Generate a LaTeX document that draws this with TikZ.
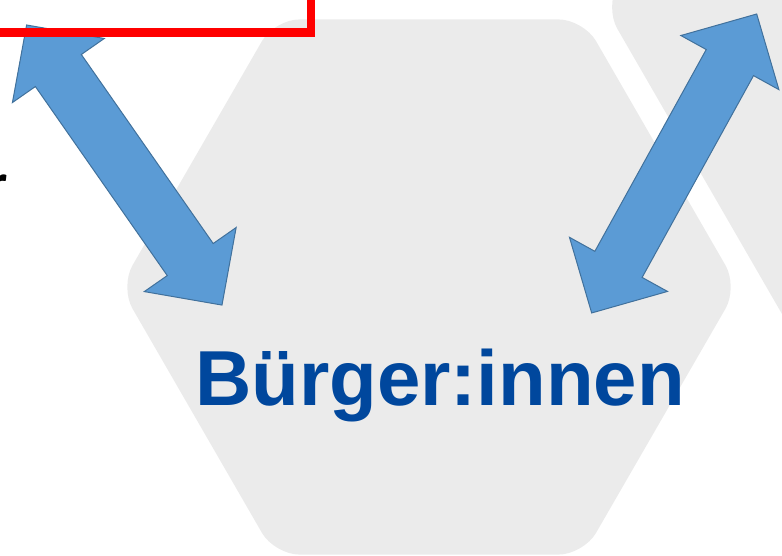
\documentclass[tikz,border=0pt]{standalone}
\usepackage{fontspec}
\setmainfont{Liberation Sans}
\newfontfamily\carlitofont{Carlito}
\definecolor{hexgray}{HTML}{EBEBEB}
\definecolor{arrowfill}{HTML}{5B9BD5}
\definecolor{arrowline}{HTML}{41719C}
\definecolor{textblue}{HTML}{00479D}
\definecolor{framered}{HTML}{FF0000}
\begin{document}
\begin{tikzpicture}[x=1pt,y=-1pt,
  hexagon/.style={fill=hexgray, rounded corners=25pt},
  dblarrow/.style={fill=arrowfill, draw=arrowline, line width=1pt, line join=miter},
  redframe/.style={draw=framered, line width=8.5pt},
  bigtext/.style={font=\bfseries\fontsize{78}{90}\selectfont, text=textblue, anchor=base, inner sep=0pt},
  fragtext/.style={font=\carlitofont\bfseries\fontsize{54}{60}\selectfont, text=black, anchor=base east, inner sep=0pt}
]
\useasboundingbox (0,0) rectangle (782,556);
\clip (0,0) rectangle (782,556);

% hexagons
\fill[hexagon] (429,19.4) -- (274.5,19.4) -- (120,287) -- (274.5,554.6)
  -- (583.5,554.6) -- (738,287) -- (583.5,19.4) -- cycle;
\fill[hexagon] (1004.8,-339.3) -- (804.8,-339.3) -- (604.8,7.1) -- (804.8,353.5)
  -- (1204.8,353.5) -- (1404.8,7.1) -- (1204.8,-339.3) -- cycle;

% arrow tips
\coordinate (tipL) at (26.6,25);
\coordinate (tipR) at (756.7,14);

\begin{scope}[shift={(tipL)}, rotate=-55.1]
  \draw[dblarrow] (0,0) -- (55.5,56) -- (55.5,28) -- (286,28) -- (286,56) -- (341.5,0)
    -- (286,-56) -- (286,-28) -- (55.5,-28) -- (55.5,-56) -- cycle;
\end{scope}
\begin{scope}[shift={(tipR)}, rotate=-118.9]
  \draw[dblarrow] (0,0) -- (55.5,56) -- (55.5,27) -- (286,27) -- (286,56) -- (341.5,0)
    -- (286,-56) -- (286,-27) -- (55.5,-27) -- (55.5,-56) -- cycle;
\end{scope}

% red frame
\draw[redframe] (-20,-20) rectangle (311,32.5);

% texts
\node[fragtext] (frag) at (7.5,202) {r};
\node[bigtext] (label) at (440,405) {Bürger:innen};
\end{tikzpicture}
\end{document}
